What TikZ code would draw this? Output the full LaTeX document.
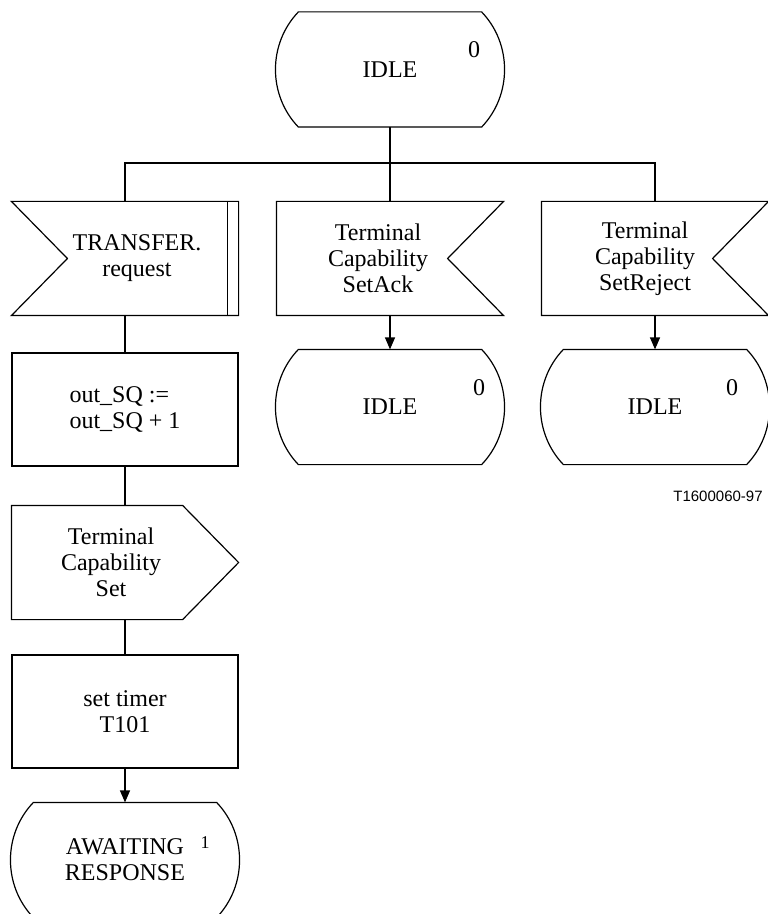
\documentclass[tikz,border=0pt]{standalone}
\usepackage{fontspec}
\setmainfont{Liberation Serif}
\newfontfamily\figidfont{Liberation Sans}
\usetikzlibrary{arrows.meta,positioning,calc}
\tikzset{
	sdl/.style = {draw=none, inner sep=0pt, minimum width=113pt, minimum height=56.5pt, align=center},
	task/.style = {sdl, draw},
	sdlstate/.style = {sdl, minimum width=114pt, minimum height=57pt,
		append after command={\pgfextra{\let\sdlnode\tikzlastnode
			\draw ($(\sdlnode.north west)+(11.5pt,0)$) -- ($(\sdlnode.north east)+(-11.5pt,0)$)
				.. controls +(15.3pt,-15.9pt) and +(15.3pt,15.9pt) .. ($(\sdlnode.south east)+(-11.5pt,0)$)
				-- ($(\sdlnode.south west)+(11.5pt,0)$)
				.. controls +(-15.3pt,15.9pt) and +(-15.3pt,-15.9pt) .. cycle;}}},
	inleft/.style = {sdl,
		append after command={\pgfextra{\let\sdlnode\tikzlastnode
			\draw (\sdlnode.north west) -- (\sdlnode.north east) -- (\sdlnode.south east)
				-- (\sdlnode.south west) -- ($(\sdlnode.west)+(28pt,0)$) -- cycle;}}},
	inright/.style = {sdl,
		append after command={\pgfextra{\let\sdlnode\tikzlastnode
			\draw (\sdlnode.north west) -- (\sdlnode.north east) -- ($(\sdlnode.east)+(-28pt,0)$)
				-- (\sdlnode.south east) -- (\sdlnode.south west) -- cycle;}}},
	sdlout/.style = {sdl,
		append after command={\pgfextra{\let\sdlnode\tikzlastnode
			\draw (\sdlnode.north west) -- ($(\sdlnode.north east)+(-28pt,0)$) -- (\sdlnode.east)
				-- ($(\sdlnode.south east)+(-28pt,0)$) -- (\sdlnode.south west) -- cycle;}}},
	sidebar/.style = {
		append after command={\pgfextra{\let\sdlnode\tikzlastnode
			\draw ($(\sdlnode.north east)+(-5.5pt,0)$) -- ($(\sdlnode.south east)+(-5.5pt,0)$);}}},
	txt/.style = {align=center, inner sep=0pt},
	num/.style = {inner sep=0pt},
	figid/.style = {inner sep=0pt, font=\figidfont\fontsize{7.5}{9}\selectfont},
	coord/.style = {coordinate}
}

\begin{document}
\begin{tikzpicture}[x=0.5pt, y=-0.5pt, line width=0.6pt, >={Triangle[length=6pt,width=5pt]},
		font=\fontsize{12}{13}\selectfont]
	\useasboundingbox (0,0) rectangle (767,914);
	\node [sdlstate] (idle0) at (390,69.5) {IDLE};
	\node [num] (idle0num) at ($(idle0)+(84,-19.5)$) {0};
	\node [coord, below of=idle0, node distance=46.75pt] (fork) {};
	\node [inright, below of=idle0, node distance=94.5pt] (inAck) {};
	\node [inleft, sidebar, left of=inAck, node distance=132.5pt] (inTransfer) {};
	\node [inright, right of=inAck, node distance=132.5pt] (inReject) {};
	\node [txt] (inTransferTxt) at ($(inTransfer)+(12,0)$) {TRANSFER.\\request};
	\node [txt] (inAckTxt) at ($(inAck)+(-12,0)$) {Terminal\\Capability\\SetAck};
	\node [txt] (inRejectTxt) at ($(inReject)+(-10,0)$) {Terminal\\Capability\\SetReject};
	\node [sdlstate, below of=inAck, node distance=74.25pt] (idleAck) {IDLE};
	\node [num] (idleAckNum) at ($(idleAck)+(89,-19)$) {0};
	\node [sdlstate, below of=inReject, node distance=74.25pt] (idleRej) {IDLE};
	\node [num] (idleRejNum) at ($(idleRej)+(77,-19)$) {0};
	\node [task, align=left, below of=inTransfer, node distance=75.5pt] (taskSQ) {out\_SQ :=\\out\_SQ + 1};
	\node [sdlout, below of=taskSQ, node distance=76.5pt] (outTCS) {};
	\node [txt] (outTCSTxt) at ($(outTCS)+(-14,0)$) {Terminal\\Capability\\Set};
	\node [task, below of=outTCS, node distance=74.5pt] (taskTimer) {set timer\\T101};
	\node [sdlstate, below of=taskTimer, node distance=74.25pt] (await) {AWAITING\\RESPONSE};
	\node [num, font=\fontsize{9}{10}\selectfont] (awaitNum) at ($(await)+(80,-17)$) {1};
	\node [figid] (figid) at (718,496) {T1600060-97};
	\draw (idle0.south) -- (inAck.north);
	\draw (inTransfer.north) |- (fork) -| (inReject.north);
	\draw [->] (inAck.south) -- (idleAck.north);
	\draw [->] (inReject.south) -- (idleRej.north);
	\draw (inTransfer.south) -- (taskSQ.north);
	\draw (taskSQ.south) -- (outTCS.north);
	\draw (outTCS.south) -- (taskTimer.north);
	\draw [->] (taskTimer.south) -- (await.north);
\end{tikzpicture}
\end{document}
